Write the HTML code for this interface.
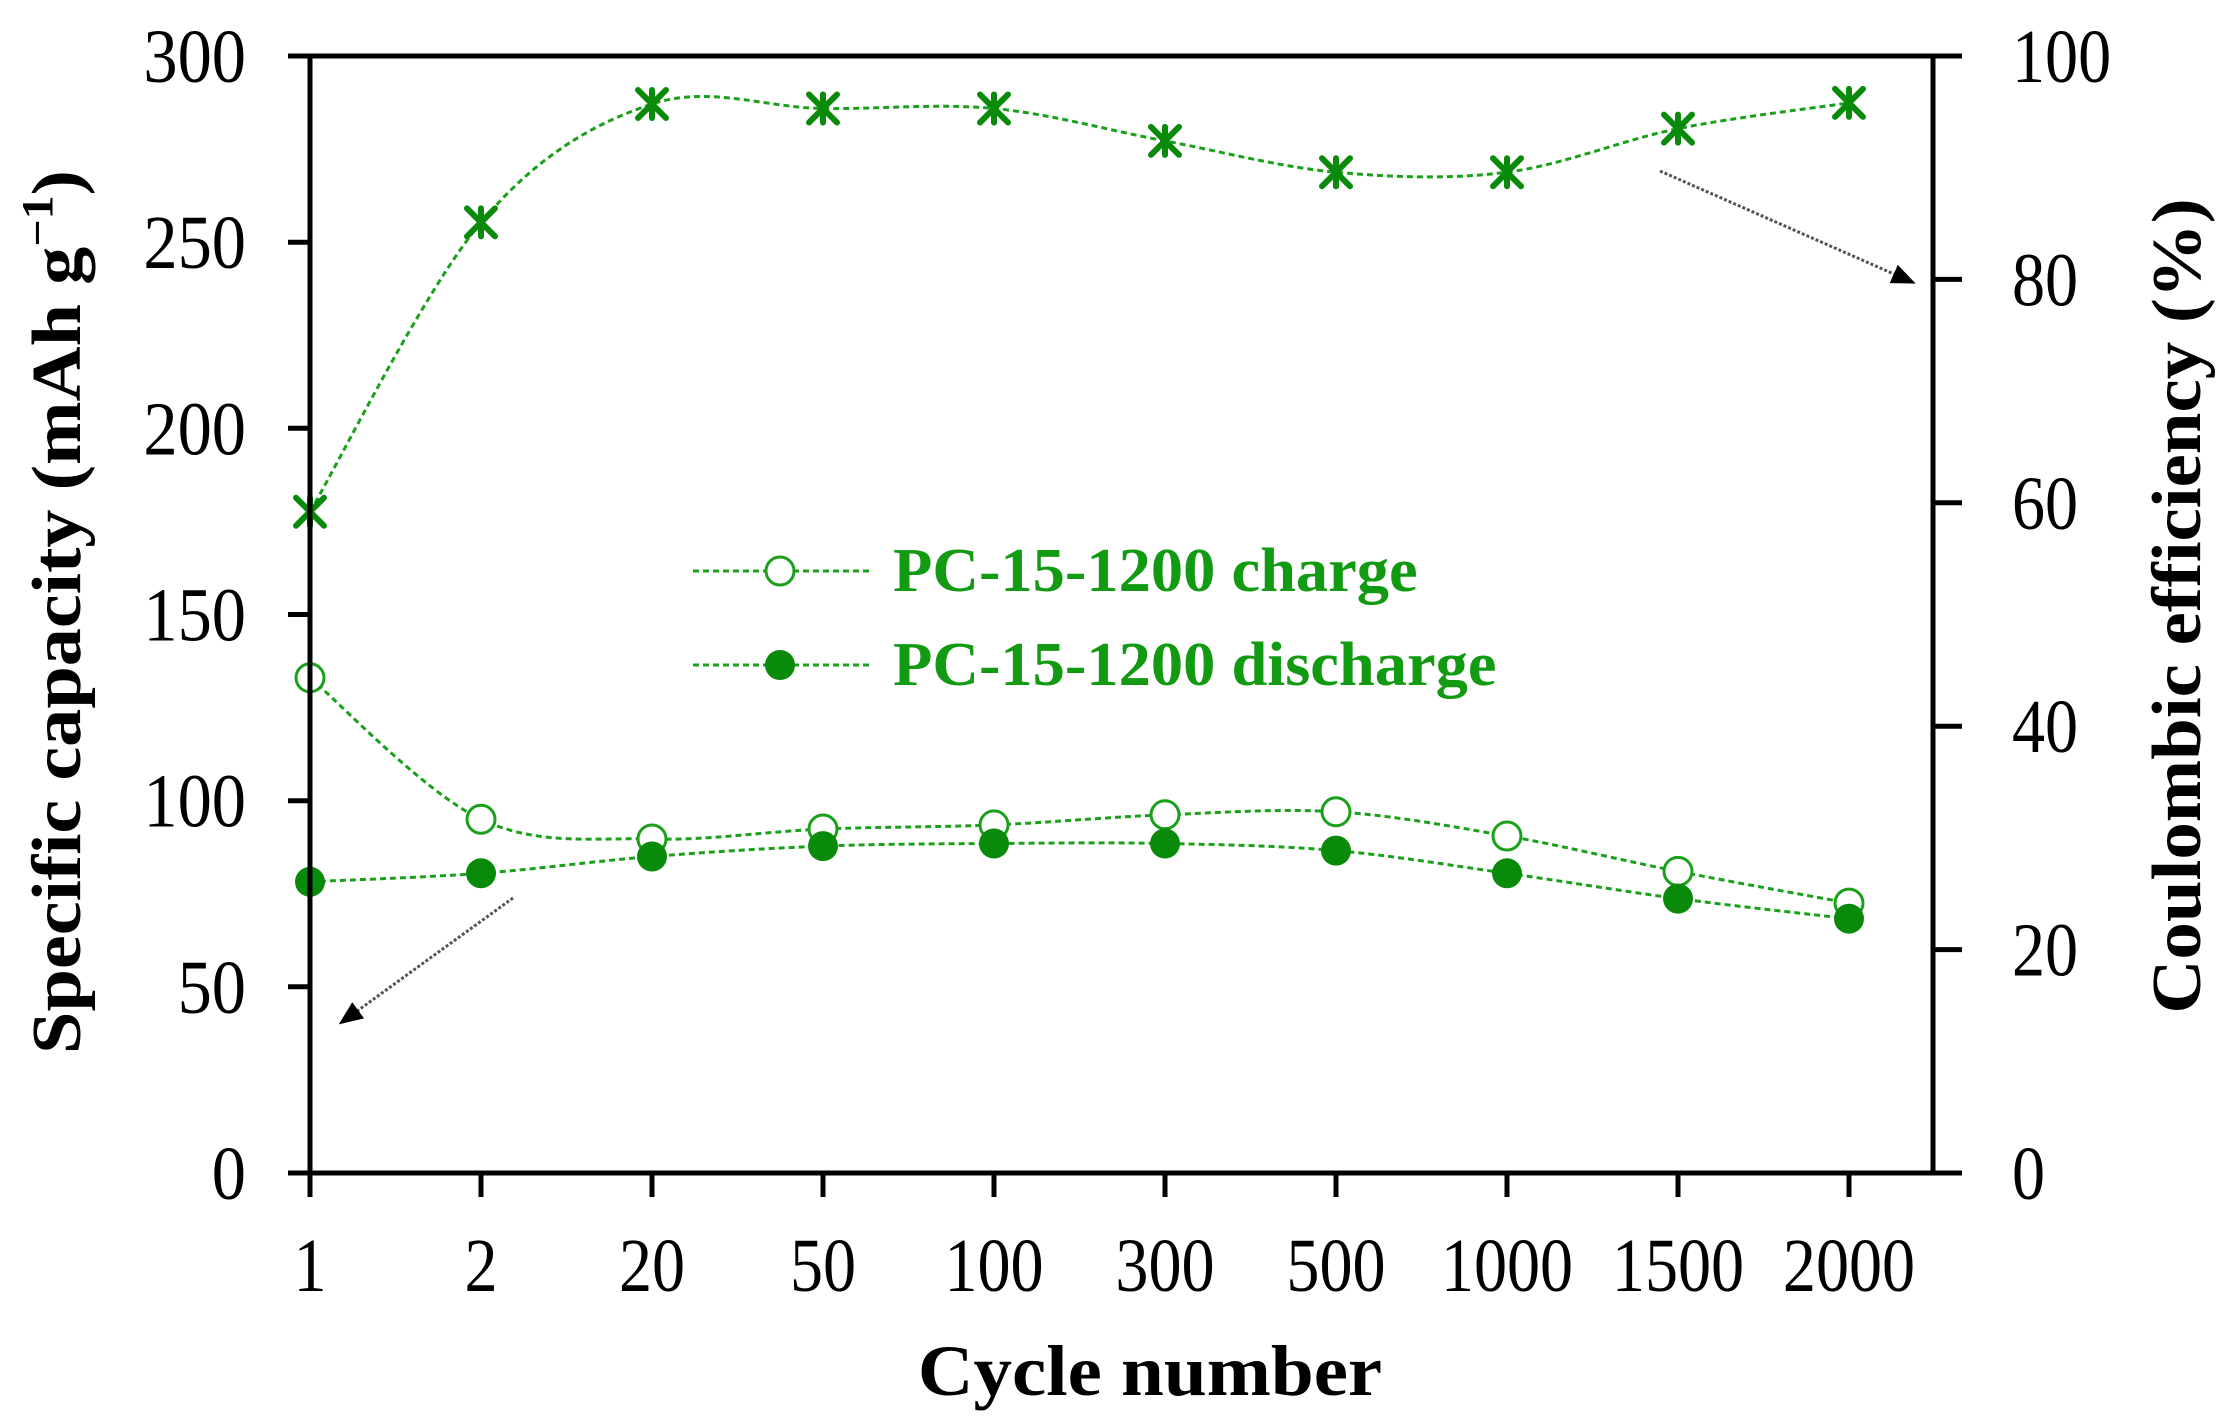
<!DOCTYPE html>
<html><head><meta charset="utf-8"><style>
html,body{margin:0;padding:0;background:#fff;}
svg{display:block;}
text{font-family:"Liberation Serif",serif;}
</style></head><body>
<svg width="2229" height="1426" viewBox="0 0 2229 1426" xmlns="http://www.w3.org/2000/svg">
<defs>
<marker id="ah" markerWidth="24" markerHeight="24" refX="20" refY="10" orient="auto" markerUnits="userSpaceOnUse" viewBox="0 0 24 20"><path d="M0,0 L24,10 L0,20 z" fill="#000"/></marker>
<g id="st" stroke="#0a8a0a" stroke-width="6" stroke-linecap="round"><line x1="-14" y1="-14" x2="14" y2="14"/><line x1="-14" y1="14" x2="14" y2="-14"/><line x1="0" y1="-14" x2="0" y2="14"/></g>
<circle id="oc" r="14" fill="#fff" stroke="#1aa01a" stroke-width="3"/>
<circle id="fc" r="15" fill="#0a8a0a"/>
</defs>

<g fill="none" stroke="#1aa01a" stroke-width="3" stroke-dasharray="6,4">
<path d="M310,511.7 C338.5,463.5 424,290.4 481,222.4 C538,154.5 595,123 652,104 C709,85 766,107.8 823,108.5 C880,109.3 937,103.1 994,108.5 C1051,113.9 1108,130.3 1165,140.9 C1222,151.5 1279,167 1336,172.2 C1393,177.4 1450,179.5 1507,172.2 C1564,164.9 1621,140.2 1678,128.6 C1735,117.1 1820.5,107.2 1849,102.9"/>
<path d="M310,677.8 C338.5,701.4 424,792.4 481,819.3 C538,846.2 595,837.4 652,839 C709,840.6 766,831.4 823,829 C880,826.7 937,827.3 994,824.9 C1051,822.5 1108,817 1165,814.8 C1222,812.6 1279,808.3 1336,811.8 C1393,815.3 1450,826.1 1507,836 C1564,845.9 1621,860.2 1678,871.4 C1735,882.6 1820.5,897.8 1849,903.1"/>
<path d="M310,881.8 C338.5,880.4 424,877.5 481,873.3 C538,869.1 595,861 652,856.5 C709,852 766,848.3 823,846.1 C880,843.9 937,843.9 994,843.5 C1051,843.1 1108,842.3 1165,843.5 C1222,844.7 1279,845.6 1336,850.6 C1393,855.6 1450,865.3 1507,873.3 C1564,881.3 1621,891 1678,898.6 C1735,906.2 1820.5,915.4 1849,918.7"/>
</g>

<use href="#st" x="310" y="511.7"/><use href="#st" x="481" y="222.4"/><use href="#st" x="652" y="104"/><use href="#st" x="823" y="108.5"/><use href="#st" x="994" y="108.5"/><use href="#st" x="1165" y="140.9"/><use href="#st" x="1336" y="172.2"/><use href="#st" x="1507" y="172.2"/><use href="#st" x="1678" y="128.6"/><use href="#st" x="1849" y="102.9"/>
<use href="#oc" x="310" y="677.8"/><use href="#oc" x="481" y="819.3"/><use href="#oc" x="652" y="839"/><use href="#oc" x="823" y="829"/><use href="#oc" x="994" y="824.9"/><use href="#oc" x="1165" y="814.8"/><use href="#oc" x="1336" y="811.8"/><use href="#oc" x="1507" y="836"/><use href="#oc" x="1678" y="871.4"/><use href="#oc" x="1849" y="903.1"/>
<use href="#fc" x="310" y="881.8"/><use href="#fc" x="481" y="873.3"/><use href="#fc" x="652" y="856.5"/><use href="#fc" x="823" y="846.1"/><use href="#fc" x="994" y="843.5"/><use href="#fc" x="1165" y="843.5"/><use href="#fc" x="1336" y="850.6"/><use href="#fc" x="1507" y="873.3"/><use href="#fc" x="1678" y="898.6"/><use href="#fc" x="1849" y="918.7"/>

<g stroke="#000" stroke-width="5" fill="none">
<line x1="288" y1="56" x2="1962" y2="56"/>
<line x1="288" y1="1173" x2="1933" y2="1173"/>
<line x1="310" y1="56" x2="310" y2="1173"/>
<line x1="1933" y1="56" x2="1933" y2="1173"/>
<line x1="310" y1="1173" x2="310" y2="1197"/><line x1="481" y1="1173" x2="481" y2="1197"/><line x1="652" y1="1173" x2="652" y2="1197"/><line x1="823" y1="1173" x2="823" y2="1197"/><line x1="994" y1="1173" x2="994" y2="1197"/><line x1="1165" y1="1173" x2="1165" y2="1197"/><line x1="1336" y1="1173" x2="1336" y2="1197"/><line x1="1507" y1="1173" x2="1507" y2="1197"/><line x1="1678" y1="1173" x2="1678" y2="1197"/><line x1="1849" y1="1173" x2="1849" y2="1197"/>
<line x1="288" y1="986.8" x2="310" y2="986.8"/><line x1="288" y1="800.7" x2="310" y2="800.7"/><line x1="288" y1="614.5" x2="310" y2="614.5"/><line x1="288" y1="428.3" x2="310" y2="428.3"/><line x1="288" y1="242.2" x2="310" y2="242.2"/>
<line x1="1933" y1="1173" x2="1962" y2="1173"/><line x1="1933" y1="949.6" x2="1962" y2="949.6"/><line x1="1933" y1="726.2" x2="1962" y2="726.2"/><line x1="1933" y1="502.8" x2="1962" y2="502.8"/><line x1="1933" y1="279.4" x2="1962" y2="279.4"/>
</g>

<g font-size="76" fill="#000">
<g text-anchor="middle">
<text transform="translate(310,1291) scale(0.87,1)">1</text>
<text transform="translate(481,1291) scale(0.87,1)">2</text>
<text transform="translate(652,1291) scale(0.87,1)">20</text>
<text transform="translate(823,1291) scale(0.87,1)">50</text>
<text transform="translate(994,1291) scale(0.87,1)">100</text>
<text transform="translate(1165,1291) scale(0.87,1)">300</text>
<text transform="translate(1336,1291) scale(0.87,1)">500</text>
<text transform="translate(1507,1291) scale(0.87,1)">1000</text>
<text transform="translate(1678,1291) scale(0.87,1)">1500</text>
<text transform="translate(1849,1291) scale(0.87,1)">2000</text>
</g>
<g text-anchor="end">
<text transform="translate(246,1199) scale(0.9,1)">0</text>
<text transform="translate(246,1012.8) scale(0.9,1)">50</text>
<text transform="translate(246,826.7) scale(0.9,1)">100</text>
<text transform="translate(246,640.5) scale(0.9,1)">150</text>
<text transform="translate(246,454.3) scale(0.9,1)">200</text>
<text transform="translate(246,268.2) scale(0.9,1)">250</text>
<text transform="translate(246,82) scale(0.9,1)">300</text>
</g>
<g text-anchor="start">
<text transform="translate(2012,1199) scale(0.87,1)">0</text>
<text transform="translate(2012,975.6) scale(0.87,1)">20</text>
<text transform="translate(2012,752.2) scale(0.87,1)">40</text>
<text transform="translate(2012,528.8) scale(0.87,1)">60</text>
<text transform="translate(2012,305.4) scale(0.87,1)">80</text>
<text transform="translate(2012,82) scale(0.87,1)">100</text>
</g>
</g>

<text transform="translate(1150,1395) scale(1.07,1)" text-anchor="middle" font-size="72" font-weight="bold">Cycle number</text>
<text transform="translate(80,612) rotate(-90) scale(1.09,1)" text-anchor="middle" font-size="70" font-weight="bold">Specific capacity  (mAh g<tspan dy="-28" font-size="44">−1</tspan><tspan dy="28">)</tspan></text>
<text transform="translate(2200,606) rotate(-90) scale(1.07,1)" text-anchor="middle" font-size="70" font-weight="bold">Coulombic efficiency (%)</text>

<line x1="513" y1="898" x2="342" y2="1022" stroke="#555" stroke-width="3" stroke-dasharray="3,2" marker-end="url(#ah)"/>
<line x1="1660" y1="171" x2="1912" y2="282" stroke="#555" stroke-width="3" stroke-dasharray="3,2" marker-end="url(#ah)"/>

<g stroke="#1aa01a" stroke-width="3" stroke-dasharray="6,4" fill="none">
<line x1="693" y1="571" x2="870" y2="571"/>
<line x1="693" y1="665" x2="870" y2="665"/>
</g>
<use href="#oc" x="780" y="571"/>
<use href="#fc" x="780" y="665"/>
<g fill="#129a12" font-size="62" font-weight="bold">
<text transform="translate(893,591) scale(1.04,1)">PC-15-1200 charge</text>
<text transform="translate(893,685) scale(1.04,1)">PC-15-1200 discharge</text>
</g>
</svg>
</body></html>
